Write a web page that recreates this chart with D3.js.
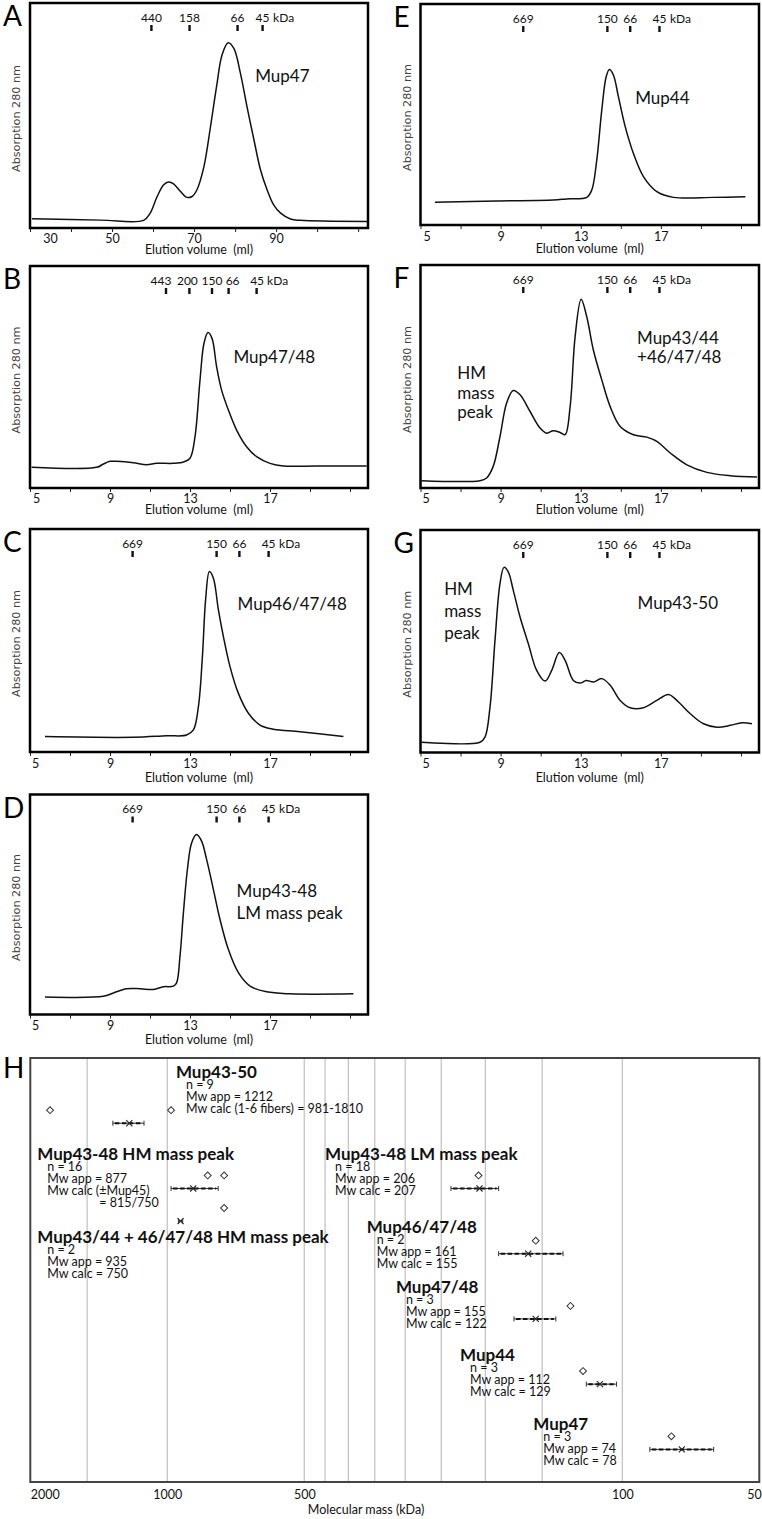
<!DOCTYPE html>
<html><head><meta charset="utf-8">
<script src="https://cdn.jsdelivr.net/npm/d3@7"></script>
<style>body{margin:0;background:#fff}svg{display:block}</style>
</head><body><svg id="fig" width="762" height="1519"></svg>
<script>
// ===================== DATA =====================
// Elution profiles: [elution volume (ml), relative absorption at 280 nm (% of plot height)]
const profileA = [[30.5,4.1],[47.2,3.5],[57.7,3.4],[59.3,6.6],[61.0,14.0],[62.6,19.2],[63.8,20.4],[65.0,19.6],[66.7,16.2],[68.3,13.6],[69.5,14.0],[70.7,17.0],[72.4,27.3],[74.0,45.0],[75.6,64.3],[76.8,76.8],[78.3,82.3],[79.7,79.8],[81.3,68.7],[82.9,53.9],[84.6,39.1],[86.2,25.8],[87.8,17.0],[89.4,10.3],[91.1,6.6],[93.5,4.0],[95.9,3.4],[112.2,2.9]];
const profileB = [[5.08,9.3],[8.33,9.3],[8.67,10.8],[9.0,12.0],[9.33,12.0],[10.17,11.4],[10.83,10.5],[11.33,11.1],[12.17,11.1],[12.67,11.7],[13.0,13.4],[13.25,23.1],[13.5,48.6],[13.7,65.2],[13.9,70.0],[14.1,67.4],[14.33,54.7],[14.58,44.1],[14.92,35.1],[15.33,26.1],[15.83,18.6],[16.33,14.1],[17.0,11.1],[17.67,9.9],[19.33,9.9],[21.83,9.9]];
const profileC = [[5.75,6.9],[10.17,6.6],[11.83,7.3],[12.83,7.6],[13.17,9.9],[13.42,20.3],[13.62,42.7],[13.78,68.2],[13.97,80.9],[14.17,77.9],[14.42,63.7],[14.67,51.7],[15.0,38.3],[15.42,26.3],[15.92,17.4],[16.5,12.1],[17.17,10.2],[18.5,9.1],[20.67,6.9]];
const profileD = [[5.75,8.0],[8.67,8.3],[9.17,9.8],[9.83,11.7],[10.5,11.7],[11.17,11.4],[11.67,12.6],[12.17,12.9],[12.33,14.4],[12.5,26.5],[12.67,46.2],[12.87,65.9],[13.08,78.0],[13.33,81.8],[13.58,78.8],[13.83,70.5],[14.17,56.8],[14.5,43.2],[14.92,29.5],[15.42,19.0],[16.0,12.9],[16.83,10.3],[18.0,9.4],[21.17,9.4]];
const profileE = [[5.72,10.3],[8.80,10.9],[11.63,11.3],[12.3,11.8],[13.3,12.5],[13.55,15.8],[13.8,29.4],[14.05,52.0],[14.27,67.1],[14.43,70.4],[14.63,67.9],[14.88,58.1],[15.22,44.5],[15.63,32.4],[16.13,21.9],[16.8,15.1],[17.63,12.5],[19.63,12.5],[21.22,12.8]];
const profileF = [[5.05,3.3],[7.97,3.3],[8.3,4.5],[8.63,9.7],[8.97,23.1],[9.3,38.1],[9.63,43.7],[9.97,41.8],[10.47,34.3],[10.97,26.9],[11.3,24.6],[11.63,25.7],[11.97,24.9],[12.22,23.9],[12.47,36.5],[12.72,67.9],[13.02,84.6],[13.3,76.8],[13.63,61.9],[14.05,48.5],[14.47,36.5],[14.97,27.6],[15.63,23.9],[16.3,22.8],[16.8,20.9],[17.47,15.7],[18.3,10.4],[19.3,7.0],[20.47,5.5],[21.8,4.9]];
const profileG = [[5.05,4.6],[7.97,4.6],[8.22,6.9],[8.47,20.4],[8.72,50.5],[8.97,76.0],[9.17,83.2],[9.38,81.2],[9.63,73.0],[9.97,60.9],[10.38,49.0],[10.8,36.9],[11.22,32.1],[11.55,36.9],[11.93,44.9],[12.22,41.4],[12.63,32.4],[12.97,31.2],[13.27,32.4],[13.63,31.7],[14.05,33.2],[14.47,30.2],[14.97,23.4],[15.47,20.1],[16.13,20.1],[16.8,23.4],[17.38,26.1],[17.88,22.7],[18.47,17.4],[19.13,12.9],[19.8,11.4],[20.47,12.2],[21.05,13.4],[21.55,12.9]];

// Size standards (kDa) and their elution volumes (ml)
const stdLabelsA = ["440","158","66","45"];
const stdVolA    = [59.6,68.9,80.6,86.7];
const stdLabelsB = ["443","200","150","66","45"];
const stdVolB    = [11.8,12.97,14.1,14.93,16.33];
const stdLabels  = ["669","150","66","45"];
const stdVol     = [10.13,14.33,15.47,16.93];

// Axis ticks (ml)
const ticksA = [30,40,50,60,70,80,90,100,110];
const tickLabelsA = [30,50,70,90];
const ticksSEC = [5,7,9,11,13,15,17,19,21];
const tickLabelsSEC = [5,9,13,17];

// Panel H: molecular mass summary
const hGroups = ["Mup43-50","Mup43-48 HM mass peak","Mup43/44 + 46/47/48 HM mass peak","Mup43-48 LM mass peak","Mup46/47/48","Mup47/48","Mup44","Mup47"];
const hN      = [9,16,2,18,2,3,3,3];
const hMwApp  = [1212,877,935,206,161,155,112,74];
const hErrLo  = [1125,773,925,187,135,140,103,63];
const hErrHi  = [1317,981,945,238,187,173,120,87];
const hRow    = [11,9,8,9,7,5,3,1];
const hCalcText = ["Mw calc (1-6 fibers) = 981-1810","Mw calc (\u00b1Mup45)","Mw calc = 750","Mw calc = 207","Mw calc = 155","Mw calc = 122","Mw calc = 129","Mw calc = 78"];
const hCalcMass = [1810,981,815,750,750,207,155,130,122,78];
const hCalcRow  = [11.4,11.4,9.4,9.4,8.4,9.4,7.4,5.4,3.4,1.4];
const massTicks = [2000,1000,500,100,50];
const massGrid  = [1500,1000,500,450,400,350,300,250,200,150,100];

// ===================== LAYOUT =====================
const svg = d3.select('#fig');
const FONT = 'Lato, Carlito, "Open Sans", sans-serif';
const L = {x0:30, x1:368}, R = {x0:420.5, x1:759};
const panels = [
  {id:'A', col:L, y0:3, y1:228, dom:[30,112.4], data:profileA, std:stdLabelsA, stdV:stdVolA, stdDx:[0,0,0,0], ticks:ticksA, tl:tickLabelsA, firstShift:20, tlOff:14.5, xlOff:25.5,
   notes:[{t:'Mup47', x:84.9, y:65.0}]},
  {id:'B', col:L, y0:266, y1:488, dom:[5,21.9], data:profileB, std:stdLabelsB, stdV:stdVolB, stdDx:[-5,-2,0,4,0.5], ticks:ticksSEC, tl:tickLabelsSEC, firstShift:6, tlOff:14.5, xlOff:25.5,
   notes:[{t:'Mup47/48', x:15.17, y:56.2}]},
  {id:'C', col:L, y0:529, y1:752, dom:[5,21.9], data:profileC, std:stdLabels, stdV:stdVol, stdDx:[0,0,0,0], ticks:ticksSEC, tl:tickLabelsSEC, firstShift:5, tlOff:15.5, xlOff:29.5,
   notes:[{t:'Mup46/47/48', x:15.38, y:63.7}]},
  {id:'D', col:L, y0:794.5, y1:1014.5, dom:[5,21.9], data:profileD, std:stdLabels, stdV:stdVol, stdDx:[0,0,0,0], ticks:ticksSEC, tl:tickLabelsSEC, firstShift:5, tlOff:15.5, xlOff:29.5,
   notes:[{t:'Mup43-48', x:15.33, y:53.5},{t:'LM mass peak', x:15.33, y:43.4}]},
  {id:'E', col:R, y0:4, y1:225, dom:[5,21.9], data:profileE, std:stdLabels, stdV:stdVol, stdDx:[0,0,0,0], ticks:ticksSEC, tl:tickLabelsSEC, firstShift:6, tlOff:16, xlOff:27.5,
   notes:[{t:'Mup44', x:15.72, y:54.8}]},
  {id:'F', col:R, y0:265, y1:488, dom:[5,21.9], data:profileF, std:stdLabels, stdV:stdVol, stdDx:[0,0,0,0], ticks:ticksSEC, tl:tickLabelsSEC, firstShift:5, tlOff:14.5, xlOff:25.5,
   notes:[{t:'Mup43/44', x:15.81, y:64.6},{t:'+46/47/48', x:15.81, y:55.9},{t:'HM', x:6.84, y:48.7},{t:'mass', x:6.84, y:40.1},{t:'peak', x:6.84, y:31.4}]},
  {id:'G', col:R, y0:530, y1:752.5, dom:[5,21.9], data:profileG, std:stdLabels, stdV:stdVol, stdDx:[0,0,0,0], ticks:ticksSEC, tl:tickLabelsSEC, firstShift:5, tlOff:15.5, xlOff:29.5,
   notes:[{t:'Mup43-50', x:15.84, y:64.5},{t:'HM', x:6.18, y:70.8},{t:'mass', x:6.18, y:61.0},{t:'peak', x:6.18, y:51.0}]}
];

panels.forEach(p => {
  const g = svg.append('g');
  const x = d3.scaleLinear().domain(p.dom).range([p.col.x0, p.col.x1]);
  const y = d3.scaleLinear().domain([0,100]).range([p.y1, p.y0]);

  // profile line
  g.append('path').datum(p.data)
    .attr('d', d3.line().x(d=>x(d[0])).y(d=>y(d[1])).curve(d3.curveCatmullRom.alpha(0.5)))
    .attr('fill','none').attr('stroke','#111').attr('stroke-width',1.5).attr('stroke-linejoin','round');

  // minor tick marks on x axis
  const axTicks = g.append('g').attr('transform',`translate(0,${p.y1})`)
    .call(d3.axisBottom(x).tickValues(p.ticks).tickSize(4).tickFormat(''));
  axTicks.select('.domain').remove();
  axTicks.selectAll('.tick line').attr('stroke','#222').attr('stroke-width',1);

  // tick labels
  const axLab = g.append('g').attr('transform',`translate(0,${p.y1})`)
    .call(d3.axisBottom(x).tickValues(p.tl).tickSize(0).tickPadding(0));
  axLab.select('.domain').remove();
  axLab.selectAll('.tick text').attr('font-family',FONT).attr('font-size',12.5).attr('fill','#111')
    .attr('dy',null).attr('y',p.tlOff);
  axLab.selectAll('.tick').filter((d,i)=>i===0).select('text').attr('x',p.firstShift);

  // x label
  g.append('text').attr('x',(p.col.x0+p.col.x1)/2).attr('y',p.y1+p.xlOff)
    .attr('text-anchor','middle').attr('font-family',FONT).attr('font-size',12.5).attr('fill','#111')
    .attr('xml:space','preserve').text('Elution volume  (ml)');

  // y label
  const ym = (p.y0+p.y1)/2+3, xm = p.col.x0-10;
  g.append('text').attr('transform',`translate(${xm},${ym}) rotate(-90)`)
    .attr('text-anchor','middle').attr('font-family','"DejaVu Sans", Verdana, sans-serif').attr('font-size',11.2).attr('fill','#444')
    .text('Absorption 280 nm');

  // size standards
  const sg = g.append('g');
  p.stdV.forEach((v,i) => {
    sg.append('rect').attr('x',x(v)-1.2).attr('y',p.y0+22).attr('width',2.4).attr('height',6).attr('fill','#111');
    sg.append('text').attr('x',x(v)+p.stdDx[i]).attr('y',p.y0+18.5).attr('text-anchor','middle')
      .attr('font-family',FONT).attr('font-size',12).attr('fill','#111').text(p.std[i]);
  });
  const lastV = p.stdV[p.stdV.length-1];
  sg.append('text').attr('x',x(lastV)+10.5).attr('y',p.y0+18.5).attr('text-anchor','start')
    .attr('font-family',FONT).attr('font-size',12).attr('fill','#111').text('kDa');

  // annotations
  p.notes.forEach(n => {
    g.append('text').attr('x',x(n.x)).attr('y',y(n.y)).attr('font-family',FONT).attr('font-size',17)
      .attr('fill','#111').text(n.t);
  });

  // frame
  g.append('rect').attr('x',p.col.x0).attr('y',p.y0).attr('width',p.col.x1-p.col.x0).attr('height',p.y1-p.y0)
    .attr('fill','none').attr('stroke','#000').attr('stroke-width',2.5);

  // panel letter
  g.append('text').attr('x', p.col.x0-27).attr('y',p.y0+23).attr('font-family',FONT)
    .attr('font-size',28).attr('fill','#000').text(p.id);
});

// ===================== PANEL H =====================
const H = {x0:30.3, x1:759.3, y0:1058, y1:1482};
const hx = d3.scaleLog().domain([2000,50]).range([H.x0,H.x1]);
const hy = d3.scaleLinear().domain([0,13]).range([H.y1,H.y0]);
const hg = svg.append('g');

// gridlines
hg.selectAll('line.grid').data(massGrid).join('line').attr('class','grid')
  .attr('x1',d=>hx(d)).attr('x2',d=>hx(d)).attr('y1',H.y0).attr('y2',H.y1)
  .attr('stroke','#c4c4c4').attr('stroke-width',1.3);

// x axis labels
const hax = hg.append('g').attr('transform',`translate(0,${H.y1})`)
  .call(d3.axisBottom(hx).tickValues(massTicks).tickSize(0).tickPadding(0).tickFormat(d3.format('d')));
hax.select('.domain').remove();
hax.selectAll('.tick text').attr('font-family',FONT).attr('font-size',12.5).attr('fill','#111').attr('dy',null).attr('y',17);
hax.selectAll('.tick').filter(d=>d===2000).select('text').attr('text-anchor','start');
hax.selectAll('.tick').filter(d=>d===50).select('text').attr('text-anchor','end').attr('x',2);
hg.append('text').attr('x',366).attr('y',H.y1+32).attr('text-anchor','middle')
  .attr('font-family',FONT).attr('font-size',12.5).attr('fill','#111').text('Molecular mass (kDa)');

// group annotations (anchor: mass at left of title, row at title centre)
const hNotes = [
  {m:957,  r:12.58}, {m:1931, r:10.06}, {m:1931, r:7.52}, {m:450, r:10.06},
  {m:364.6,r:7.83},  {m:314.4,r:5.97},  {m:227.3,r:3.88}, {m:156.9,r:1.78}
];
hGroups.forEach((name,i) => {
  const tx = hx(hNotes[i].m), tc = hy(hNotes[i].r);
  hg.append('text').attr('x',tx).attr('y',tc+6).attr('font-family',FONT).attr('font-weight',700)
    .attr('font-size',17).attr('fill','#111').text(name);
  const lines = ['n = '+hN[i], 'Mw app = '+hMwApp[i], hCalcText[i]];
  if (i===1) lines.push('= 815/750');
  lines.forEach((t,j) => {
    const indent = (i===1 && j===3) ? 52 : 0;
    hg.append('text').attr('x',tx+10+indent).attr('y',tc+12.5+12*j+4.5)
      .attr('font-family',FONT).attr('font-size',12.5).attr('fill','#111').text(t);
  });
});

// error bars (apparent mass)
hGroups.forEach((name,i) => {
  const yy = hy(hRow[i]), xl = hx(hErrHi[i]), xr = hx(hErrLo[i]);
  hg.append('line').attr('x1',xl).attr('x2',xr).attr('y1',yy).attr('y2',yy).attr('stroke','#333').attr('stroke-width',1);
  [xl,xr].forEach(xc => hg.append('line').attr('x1',xc).attr('x2',xc).attr('y1',yy-2.5).attr('y2',yy+2.5).attr('stroke','#333').attr('stroke-width',1));
  if (xr-xl > 8) {
    hg.append('line').attr('x1',xl+2).attr('x2',xr-2).attr('y1',yy).attr('y2',yy)
      .attr('stroke','#111').attr('stroke-width',2).attr('stroke-dasharray','4.5,2.5');
  }
  hg.append('path').attr('d', d3.symbol(d3.symbolTimes, 26)())
    .attr('transform',`translate(${hx(hMwApp[i])},${yy})`).attr('fill','none').attr('stroke','#222').attr('stroke-width',1.1);
});

// calculated masses (diamonds)
hCalcMass.forEach((m,i) => {
  hg.append('path').attr('d', d3.symbol(d3.symbolSquare, 24)())
    .attr('transform',`translate(${hx(m)},${hy(hCalcRow[i])}) rotate(45)`)
    .attr('fill','#fff').attr('stroke','#333').attr('stroke-width',1);
});

// frame & letter
hg.append('rect').attr('x',H.x0).attr('y',H.y0).attr('width',H.x1-H.x0).attr('height',H.y1-H.y0)
  .attr('fill','none').attr('stroke','#444').attr('stroke-width',2);
hg.append('text').attr('x',3).attr('y',H.y0+20).attr('font-family',FONT).attr('font-size',28).attr('fill','#000').text('H');
</script></body></html>
